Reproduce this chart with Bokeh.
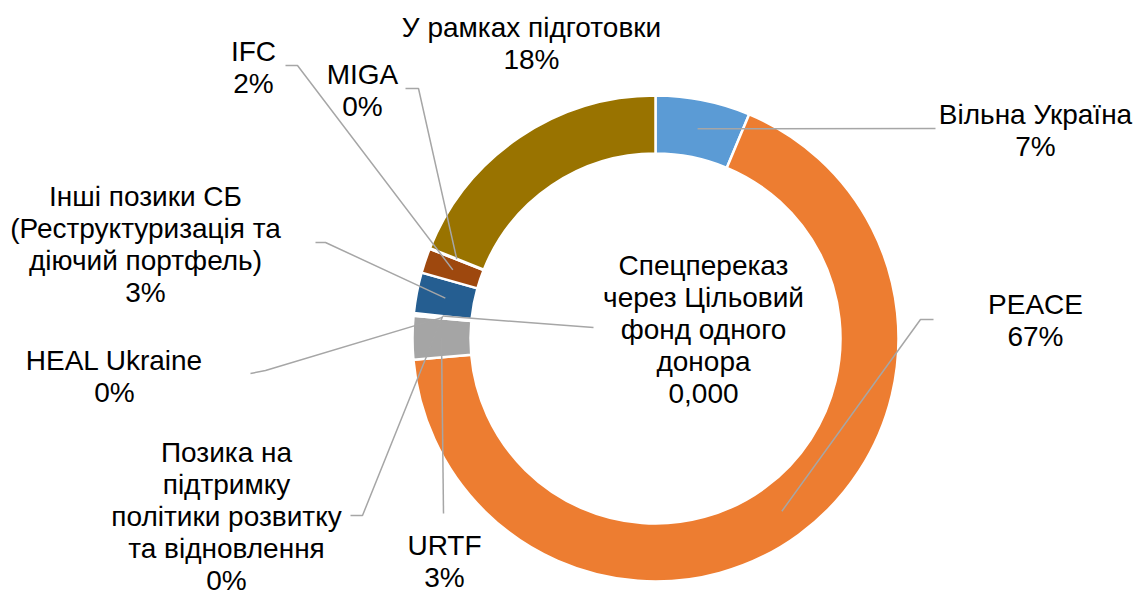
import numpy as np
from bokeh.plotting import figure
from bokeh.models import Range1d, ColumnDataSource
from bokeh.embed import file_html
from bokeh.resources import INLINE
from bokeh.core.properties import value

# ---- data ----
names = ["Вільна Україна", "PEACE", "URTF", "HEAL Ukraine",
         "Позика на підтримку політики розвитку та відновлення",
         "Спецпереказ через Цільовий фонд одного донора",
         "Інші позики СБ (Реструктуризація та діючий портфель)",
         "IFC", "MIGA", "У рамках підготовки"]
shares = [6.3, 67.3, 2.9, 0.15, 0.02, 0.0, 2.7, 1.65, 0.05, 18.93]
value_labels = ["7%", "67%", "3%", "0%", "0%", "0,000", "3%", "2%", "0%", "18%"]
name_lines = [["Вільна Україна"], ["PEACE"], ["URTF"], ["HEAL Ukraine"],
              ["Позика на", "підтримку", "політики розвитку", "та відновлення"],
              ["Спецпереказ", "через Цільовий", "фонд одного", "донора"],
              ["Інші позики СБ", "(Реструктуризація та", "діючий портфель)"],
              ["IFC"], ["MIGA"], ["У рамках підготовки"]]
colors = ["#5B9BD5", "#ED7D31", "#A5A5A5", "#FFC000", "#4472C4", "#70AD47",
          "#255E91", "#9E480E", "#636363", "#997300"]

# ---- layout (screen pixel coordinates of the page) ----
W, H = 1137, 595
CX, CY = 655, 338
R_IN, R_OUT, R_MID = 185, 243, 214
label_pos = [(1035, 114), (1035, 304), (444, 545), (114, 360), (226, 452),
             (703, 265), (145, 196), (253, 51), (362, 74), (531, 27)]
leader_paths = [[(935, 128)], [(920, 319), (933, 319)], [(443, 513)],
                [(265, 370), (250, 373)], [(362, 515), (350, 515)],
                [(593, 327)], [(325, 242), (315, 242)],
                [(297, 65), (285, 65)], [(418, 88), (405, 88)], None]
LINE_H = 32

def sy(y):
    return H - y

p = figure(width=W, height=H, output_backend="svg", toolbar_location=None,
           x_range=Range1d(0, W), y_range=Range1d(0, H), min_border=0)
p.axis.visible = False
p.grid.visible = False
p.outline_line_color = None
p.background_fill_color = "white"
p.border_fill_color = "white"

total = sum(shares)
cum = np.concatenate([[0], np.cumsum(shares)]) / total * 360.0
starts = cum[:-1]
ends = cum[1:]
mids = (starts + ends) / 2

keep = [i for i in range(len(shares)) if shares[i] > 0]
src = ColumnDataSource(dict(
    x=[CX] * len(keep), y=[sy(CY)] * len(keep),
    start=[np.radians(90 - starts[i]) for i in keep],
    end=[np.radians(90 - ends[i]) for i in keep],
    color=[colors[i] for i in keep]))
p.annular_wedge(x="x", y="y", inner_radius=R_IN, outer_radius=R_OUT,
                start_angle="start", end_angle="end", direction="clock",
                fill_color="color", line_color="white", line_width=2.5, source=src)

# leader lines
for i, path in enumerate(leader_paths):
    if path is None:
        continue
    a = np.radians(mids[i])
    x0 = CX + R_MID * np.sin(a)
    y0 = CY - R_MID * np.cos(a)
    xs = [x0] + [pt[0] for pt in path]
    ys = [sy(y0)] + [sy(pt[1]) for pt in path]
    p.line(xs, ys, line_color="#A6A6A6", line_width=1.5)

# labels
tx, ty, tt = [], [], []
for i in range(len(names)):
    lines = name_lines[i] + [value_labels[i]]
    x, y = label_pos[i]
    for k, s in enumerate(lines):
        tx.append(x)
        ty.append(sy(y + k * LINE_H))
        tt.append(s)
p.text(x=tx, y=ty, text=tt, text_align="center", text_baseline="middle",
       text_font=value("Liberation Sans"), text_font_size="28px", text_color="#000000")

open("out.html", "w").write(file_html(p, INLINE))
